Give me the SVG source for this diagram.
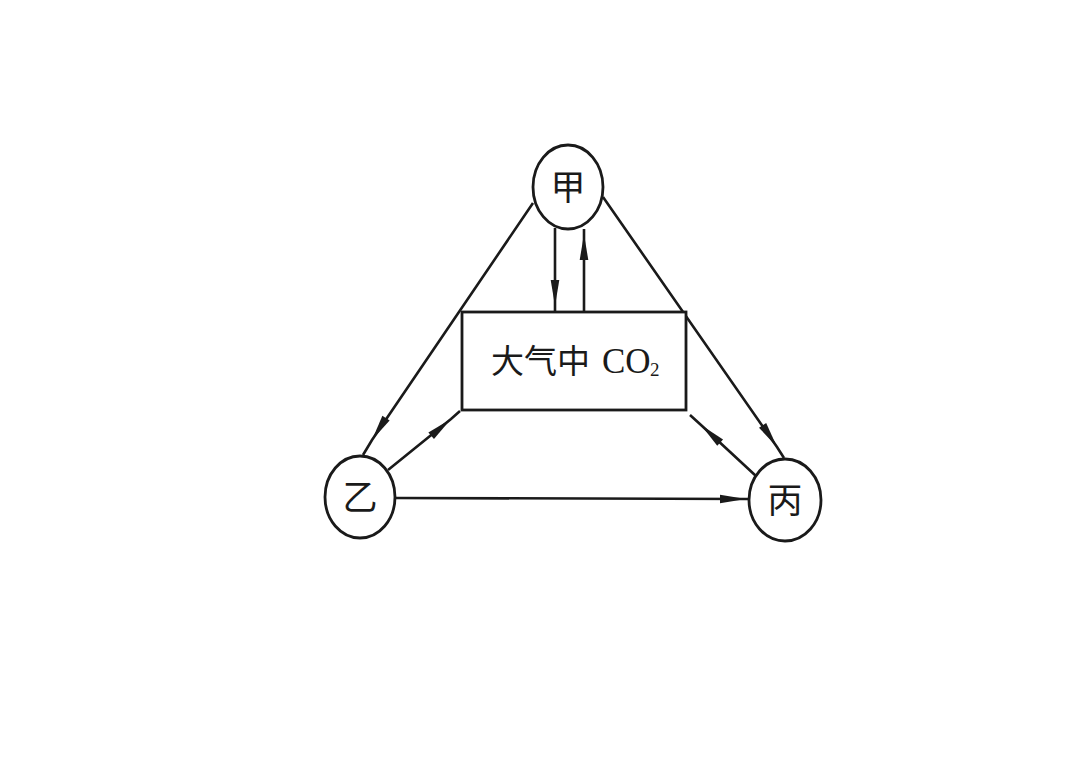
<svg xmlns="http://www.w3.org/2000/svg" width="1080" height="763" viewBox="0 0 1080 763">
<style>
.node{fill:#fff;stroke:#1a1a1a;stroke-width:2.8}
.conn{fill:none;stroke:#1a1a1a;stroke-width:2.6;marker-mid:url(#arr)}
.cjk{font-family:"Noto Sans CJK SC","Noto Sans CJK JP",sans-serif;fill:#1a1a1a}
.lat{font-family:"Liberation Serif",serif;fill:#1a1a1a}
</style>
<defs>
<marker id="arr" markerUnits="userSpaceOnUse" markerWidth="30" markerHeight="12" viewBox="-28 -6 30 12" refX="0" refY="0" orient="auto">
<path d="M0,0 L-26,-4.3 L-26,4.3 Z" fill="#1a1a1a"/>
</marker>
</defs>
<rect width="1080" height="763" fill="#fff"/>
<g id="connectors">
<path class="conn" d="M533,203 L372,440 L363,455"/>
<path class="conn" d="M603,197 L777,447 L784,458"/>
<path class="conn" d="M555,228 L555,306 L555,312"/>
<path class="conn" d="M584,312 L584,234 L584,229"/>
<path class="conn" d="M388,470 L451,419 L460,411"/>
<path class="conn" d="M756,476 L701,425 L690,415"/>
<path class="conn" d="M396,498 L746,499 L750,499"/>
</g>
<g id="atm">
<rect class="node" x="462" y="312" width="224" height="98"/>
<text class="cjk" x="491" y="373" font-size="33">大气中</text>
<text class="lat" x="602" y="373" font-size="35">CO</text>
<text class="lat" x="650" y="376" font-size="19">2</text>
</g>
<g id="jia">
<ellipse class="node" cx="568" cy="187" rx="35" ry="42"/>
<text class="cjk" x="568" y="200" font-size="35" text-anchor="middle">甲</text>
</g>
<g id="yi">
<ellipse class="node" cx="360" cy="497" rx="35" ry="41"/>
<text class="cjk" x="360" y="510" font-size="35" text-anchor="middle">乙</text>
</g>
<g id="bing">
<ellipse class="node" cx="785" cy="500" rx="36" ry="41"/>
<text class="cjk" x="785" y="513" font-size="35" text-anchor="middle">丙</text>
</g>
</svg>
